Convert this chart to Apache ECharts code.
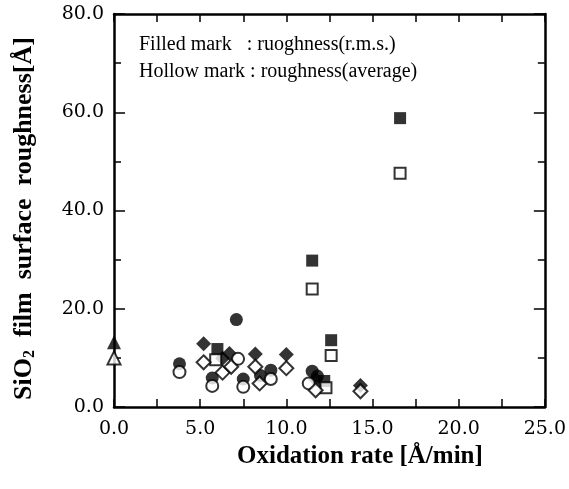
<!DOCTYPE html>
<html>
<head>
<meta charset="utf-8">
<script src="https://cdn.jsdelivr.net/npm/echarts@6/dist/echarts.min.js"></script>
<style>
  html, body { margin: 0; padding: 0; background: #fff; }
  #chart { width: 569px; height: 489px; }
</style>
</head>
<body>
<div id="chart"></div>
<script>
// x: oxidation rate [A/min], y: roughness [A]
const xMin = 0, xMax = 25, xStep = 5;
const yMin = 0, yMax = 80, yStep = 20;

// filled = r.m.s., hollow = average
const filledCircle = [[3.8, 8.8], [5.7, 5.9], [7.1, 17.8], [7.5, 5.7], [8.5, 6.4], [9.1, 7.5], [11.5, 7.3], [11.8, 6.3]];
const hollowCircle = [[3.8, 7.1], [5.7, 4.3], [7.2, 9.8], [7.5, 4.1], [9.1, 5.7], [11.3, 4.8]];
const filledSquare = [[6.0, 11.8], [11.5, 29.8], [12.6, 13.6], [12.2, 5.3], [16.6, 58.8]];
const hollowSquare = [[5.9, 9.6], [11.5, 24.0], [12.6, 10.5], [12.3, 3.9], [16.6, 47.6]];
const filledDiamond = [[5.2, 12.9], [6.3, 9.9], [6.7, 10.9], [8.2, 10.8], [10.0, 10.7], [11.7, 5.6], [14.3, 4.4]];
const hollowDiamond = [[5.2, 9.1], [6.3, 7.0], [6.8, 8.2], [8.2, 8.2], [8.45, 4.8], [10.0, 7.9], [11.7, 3.4], [14.3, 3.2]];
const filledTriangle = [[0, 13.2]];
const hollowTriangle = [[0, 10.0]];

const serif = 'Liberation Serif';
const tickFont = 'DejaVu Serif';

var myChart = echarts.init(document.getElementById('chart'));

function scatter(data, symbol, size, filled) {
  return {
    type: 'scatter',
    data: data,
    symbol: symbol,
    symbolSize: size,
    clip: false,
    silent: true,
    itemStyle: filled
      ? { color: '#000' }
      : { color: '#fff', borderColor: '#000', borderWidth: 2 }
  };
}

// frame axis: same scale on all four sides, ticks pointing inward
function frameAxis(pos, min, max, step, major, minor, withLabels) {
  return {
    type: 'value', min: min, max: max, interval: step, position: pos,
    axisLine: { onZero: false, lineStyle: { color: '#000', width: 2.5 } },
    axisTick: { inside: true, length: major, lineStyle: { color: '#000', width: 1.5 } },
    minorTick: { show: true, splitNumber: 2, length: minor, lineStyle: { color: '#000', width: 1.5 } },
    splitLine: { show: false },
    axisLabel: withLabels
      ? { color: '#000', fontFamily: tickFont, fontSize: 19, margin: pos === 'bottom' ? 13 : 10, formatter: v => v.toFixed(1) }
      : { show: false }
  };
}

const yLeft = frameAxis('left', yMin, yMax, yStep, 11, 7, true);
yLeft.name = 'SiO{sub|2}  film  surface  roughness[Å]';
yLeft.nameLocation = 'middle';
yLeft.nameGap = 76;
yLeft.nameTextStyle = {
  color: '#000', fontFamily: serif, fontWeight: 'bold', fontSize: 26,
  padding: [0, 16, 0, 0],
  rich: {
    sub: { fontFamily: serif, fontWeight: 'bold', fontSize: 16, padding: [12, 0, 0, 0], color: '#000' }
  }
};

myChart.setOption({
  animation: false,
  backgroundColor: '#fff',
  grid: { left: 114, right: 23, top: 14, bottom: 82 },
  xAxis: [
    frameAxis('bottom', xMin, xMax, xStep, 8, 8, true),
    frameAxis('top', xMin, xMax, xStep, 8, 8, false)
  ],
  yAxis: [
    yLeft,
    frameAxis('right', yMin, yMax, yStep, 11, 7, false)
  ],
  graphic: [
    {
      type: 'text', left: 139, top: 35,
      style: { text: 'Filled mark   : ruoghness(r.m.s.)', font: '20px "Liberation Serif"', fill: '#000' }
    },
    {
      type: 'text', left: 139, top: 62,
      style: { text: 'Hollow mark : roughness(average)', font: '20px "Liberation Serif"', fill: '#000' }
    },
    {
      type: 'text', left: 237, top: 444,
      style: { text: 'Oxidation rate [Å/min]', font: 'bold 25px "Liberation Serif"', fill: '#000' }
    }
  ],
  series: [
    scatter(filledCircle, 'circle', 13, true),
    scatter(filledSquare, 'rect', 12, true),
    scatter(filledDiamond, 'diamond', 15, true),
    scatter(filledTriangle, 'triangle', 14, true),
    scatter(hollowCircle, 'circle', 12, false),
    scatter(hollowSquare, 'rect', 11, false),
    scatter(hollowDiamond, 'diamond', 14, false),
    scatter(hollowTriangle, 'triangle', 13, false)
  ]
});
</script>
</body>
</html>
